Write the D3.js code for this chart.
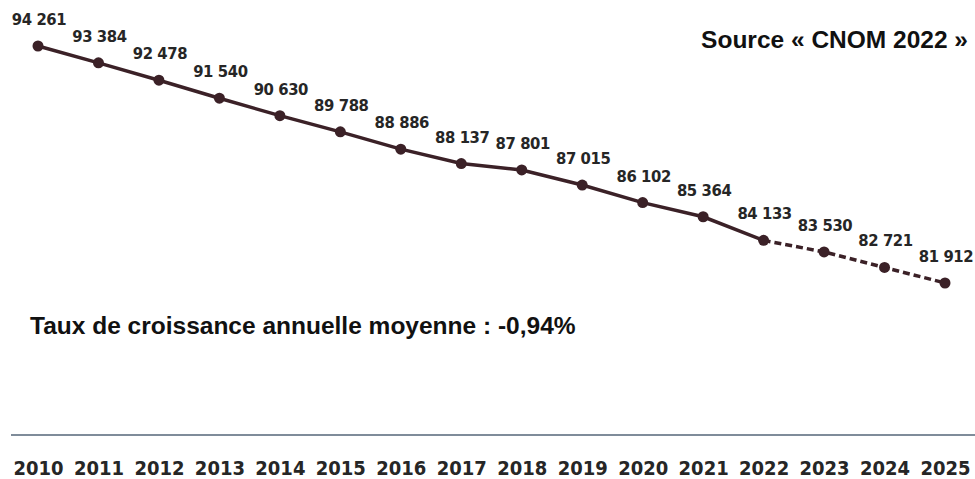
<!DOCTYPE html>
<html>
<head>
<meta charset="utf-8">
<script src="https://cdn.jsdelivr.net/npm/d3@7"></script>
<style>
  body { margin: 0; background: #fff; }
</style>
</head>
<body>
<svg width="975" height="479"></svg>
<script>
// Médecins généralistes, source CNOM 2022
const years = [2010, 2011, 2012, 2013, 2014, 2015, 2016, 2017, 2018, 2019, 2020, 2021, 2022, 2023, 2024, 2025];
const values = [94261, 93384, 92478, 91540, 90630, 89788, 88886, 88137, 87801, 87015, 86102, 85364, 84133, 83530, 82721, 81912];
const lastObserved = 2022;
const sourceText = "Source « CNOM 2022 »";
const rateText = "Taux de croissance annuelle moyenne : -0,94%";

let svg = d3.select("svg"),
    lineColor = "#3b2127",
    labelFont = "'DejaVu Sans Condensed', 'DejaVu Sans', sans-serif";

let data = years.map((y, i) => ({year: y, value: values[i]}));

let x = d3.scalePoint()
    .domain(years)
    .range([38, 945]);

let y = d3.scaleLinear()
    .domain([d3.min(values), d3.max(values)])
    .range([283, 46]);

let fmt = v => d3.format(",")(v).replace(",", " ");

// axe du bas
svg.append("line")
    .attr("x1", 11)
    .attr("x2", 975)
    .attr("y1", 435)
    .attr("y2", 435)
    .attr("stroke", "#7f8c9a")
    .attr("stroke-width", 2);

let xAxis = svg.append("g")
    .attr("transform", "translate(0,435)")
    .call(d3.axisBottom(x).tickSize(0).tickPadding(0).tickFormat(d3.format("d")));
xAxis.select(".domain").remove();
xAxis.selectAll("text")
    .attr("y", 40)
    .attr("dy", 0)
    .attr("fill", "#262626")
    .attr("font-family", labelFont)
    .attr("font-weight", "bold")
    .attr("font-size", 20);

let line = d3.line()
    .x(d => x(d.year))
    .y(d => y(d.value));

svg.append("path")
    .datum(data.filter(d => d.year <= lastObserved))
    .attr("fill", "none")
    .attr("stroke", lineColor)
    .attr("stroke-width", 3.5)
    .attr("d", line);

svg.append("path")
    .datum(data.filter(d => d.year >= lastObserved))
    .attr("fill", "none")
    .attr("stroke", lineColor)
    .attr("stroke-width", 3.5)
    .attr("stroke-dasharray", "7,4")
    .attr("d", line);

svg.append("g")
    .selectAll("circle")
    .data(data)
    .enter().append("circle")
    .attr("cx", d => x(d.year))
    .attr("cy", d => y(d.value))
    .attr("r", 5.5)
    .attr("fill", lineColor);

svg.append("g")
    .attr("font-family", labelFont)
    .attr("font-weight", "bold")
    .attr("font-size", 16.5)
    .attr("letter-spacing", -0.4)
    .attr("fill", "#262626")
    .attr("text-anchor", "middle")
    .selectAll("text")
    .data(data)
    .enter().append("text")
    .attr("x", d => x(d.year) + 1)
    .attr("y", d => y(d.value) - 21)
    .text(d => fmt(d.value));

svg.append("text")
    .attr("x", 968)
    .attr("y", 48)
    .attr("text-anchor", "end")
    .attr("font-family", "'Liberation Sans', Arial, sans-serif")
    .attr("font-weight", "bold")
    .attr("font-size", 24.5)
    .attr("fill", "#111")
    .text(sourceText);

svg.append("text")
    .attr("x", 30)
    .attr("y", 334)
    .attr("font-family", "'Liberation Sans', Arial, sans-serif")
    .attr("font-weight", "bold")
    .attr("font-size", 24.5)
    .attr("fill", "#111")
    .text(rateText);
</script>
</body>
</html>
